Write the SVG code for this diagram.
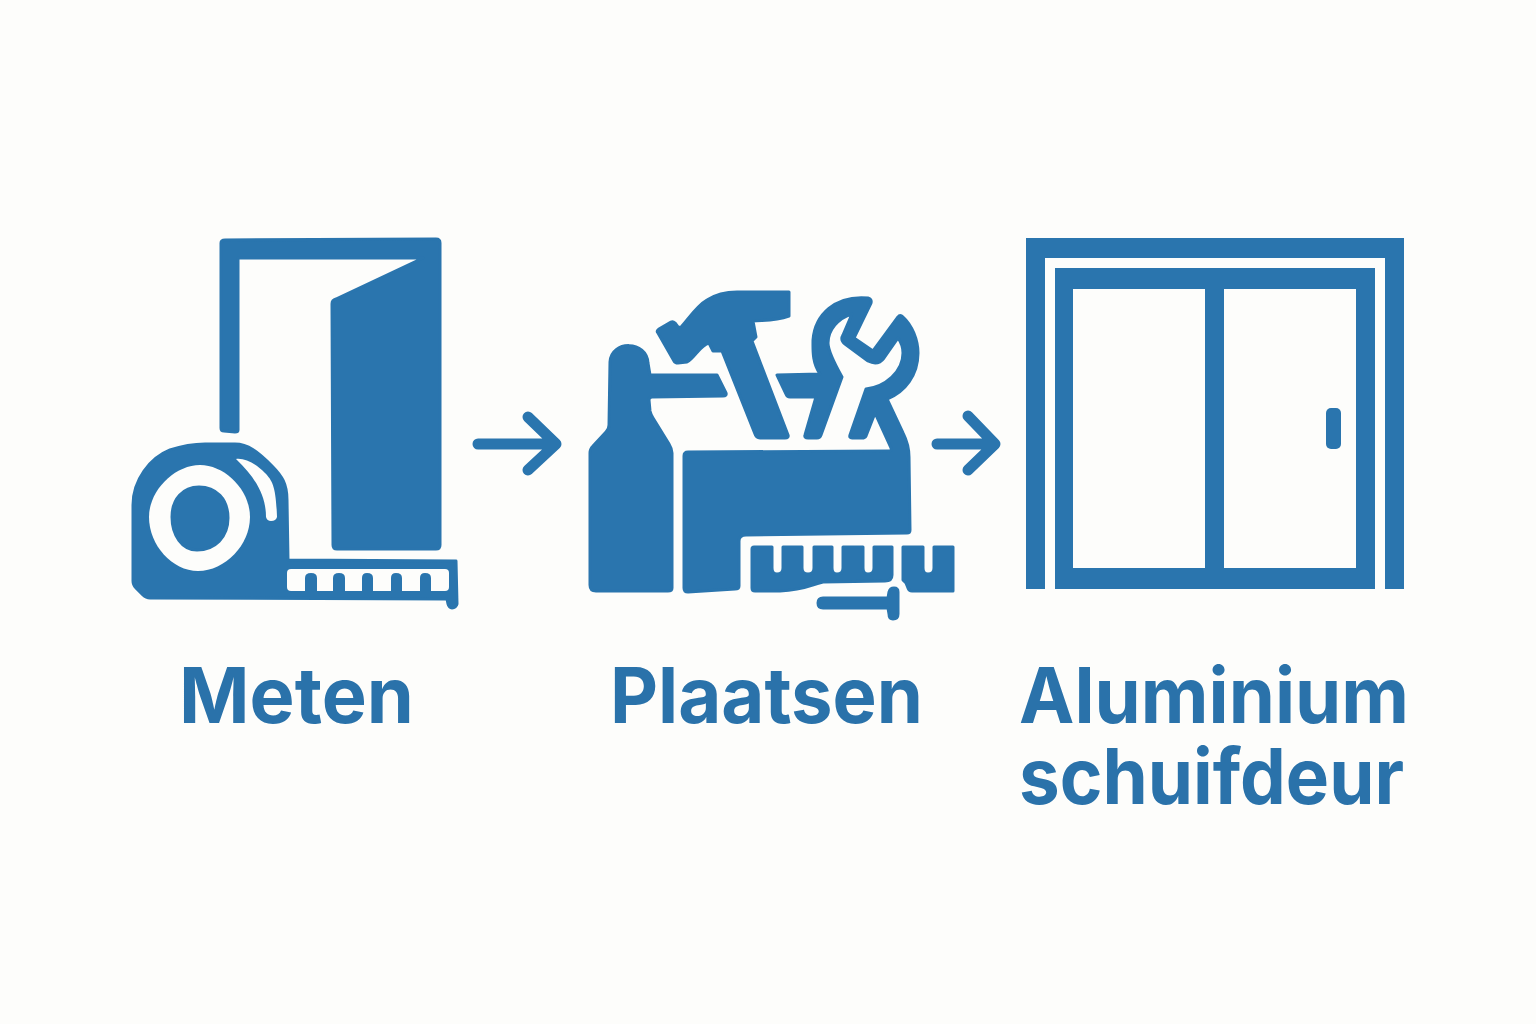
<svg xmlns="http://www.w3.org/2000/svg" width="1536" height="1024" viewBox="0 0 1536 1024">
<style>
.b{fill:#2a75ae;stroke:#2a75ae;stroke-width:3;stroke-linejoin:round}
.w{fill:#fdfdfb}
.c{fill:none;stroke:#2a75ae;stroke-width:11;stroke-linecap:round;stroke-linejoin:round}
.t{font-family:Inter,"Liberation Sans",sans-serif;font-weight:700;font-size:77px;fill:#2a72aa}
</style>
<rect width="1536" height="1024" fill="#fdfdfb"/>
<g id="node-meten">
<path class="b" d="M221,243 Q221,240 225,240 L436,239 Q440,239 440,243 L440,545 Q440,549 436,549 L337,549 Q333,549 333,545 L332,304 Q332,300 336,299 L423,258 L238,258 L238,430 Q238,432 235,432 L224,431 Q221,431 221,428 Z"/>
<path class="b" d="M133,505 C133,480 150,458 170,450 C185,445 195,444 205,444 L235,444 C248,444 258,452 272,466 C282,476 287,484 287,500 L288,560 L456,561 L457,604 Q456,608 452,608 Q449,608 448,604 L447,599 L150,598 Q146,598 143,595 L136,588 Q133,585 133,581 Z"/>
<path class="w" d="M149,517 C149,490 175,465 200,465 C225,465 250,490 250,517 C250,545 225,571 198,571 C172,571 149,545 149,517 Z"/>
<path class="b" d="M172,517 C172,499 183,487 199,487 C216,487 228,499 228,518 C228,537 215,550 197,550 C182,550 172,535 172,517 Z"/>
<path class="w" d="M236,459 C245,458 255,463 265,473 C273,481 276,488 277,517 Q276,521 271,521 Q267,521 266,517 C266,498 258,480 236,459 Z"/>
<rect class="w" x="287" y="569" width="162" height="22" rx="4"/>
<g fill="#2a75ae">
<path d="M305,592 V578 Q305,573 311,573 Q317,573 317,578 V592 Z"/>
<path d="M333,592 V578 Q333,573 339,573 Q345,573 345,578 V592 Z"/>
<path d="M362,592 V578 Q362,573 367,573 Q373,573 373,578 V592 Z"/>
<path d="M391,592 V578 Q391,573 396,573 Q402,573 402,578 V592 Z"/>
<path d="M420,592 V578 Q420,573 425,573 Q431,573 431,578 V592 Z"/>
</g>
<text class="t" x="179" y="723" textLength="235" lengthAdjust="spacingAndGlyphs">Meten</text>
</g>
<g id="node-plaatsen">
<path class="b" d="M590,453 Q590,449 593,446 L606,432 Q609,429 609,425 L610,362 C611,340 647,340 648,363 L650,375 L717,375 L726,393 Q727,396 723,396 L652,397 Q649,397 649,400 L650,411 Q651,415 653,418 L669,444 Q672,449 672,453 L672,588 Q672,591 668,591 L596,591 Q590,591 590,585 Z"/>
<path class="b" d="M688,452 L889,451 Q892,451 891,448 L875,413 L866,436 Q865,438 862,438 L852,438 Q849,438 850,435 L866,389 C885,387 903,372 903,353 Q903,345 898,338 L884,358 Q878,366 868,361 L845,344 Q840,340 843,335 L852,314 C838,318 828,330 828,343 Q828,352 842,377 L821,435 Q820,438 817,438 L808,438 Q804,438 805,435 L816,397 L790,397 Q787,397 786,394 L777,375 L820,374 C812,362 813,350 813,340 C815,315 835,295 868,298 Q872,299 871,303 L854,338 L873,351 L898,317 Q900,314 903,317 C912,325 918,340 918,353 C918,375 905,392 887,399 L903,433 Q909,445 909,457 L910,530 Q910,533 907,533 L746,535 Q739,535 739,541 L739,586 Q739,589 735,589 L688,592 Q684,592 684,588 L684,456 Q684,452 688,452 Z"/>
<path class="b" d="M658,333 Q656,331 659,329 L671,322 Q673,321 675,323 L678,327 Q680,328 682,326 C692,314 698,305 707,300 C718,293 727,292 737,292 L789,292 L789,316 C775,321 765,320 753,321 L756,337 L752,341 L788,435 Q789,438 785,438 L760,438 Q756,438 755,434 L722,351 L713,351 L709,343 C700,345 695,358 687,362 L678,363 Q675,363 674,361 Z"/>
<path class="b" d="M752,549 Q752,547 754,547 L772,547 L772,568 Q772,574 777,574 Q783,574 783,568 L783,547 L802,547 L802,568 Q802,574 808,574 Q814,574 814,568 L814,547 L832,547 L832,568 Q832,574 837,574 Q843,574 843,568 L843,547 L863,547 L863,568 Q863,574 868,574 Q874,574 874,568 L874,547 L892,547 L892,575 Q892,581 885,581 L823,582 C810,585 805,590 780,591 L755,591 Q752,591 752,588 Z"/>
<path class="b" d="M903,547 L923,547 L923,568 Q923,574 928,574 Q934,574 934,568 L934,547 L953,547 L953,591 L912,591 Q909,591 908,588 L906,583 L903,580 Z"/>
<path class="b" d="M823,598 L888,598 L889,592 Q890,588 894,588 Q898,588 898,592 L898,614 Q898,619 893,619 Q889,619 889,614 L888,608 L823,608 Q818,608 818,603 Q818,598 823,598 Z"/>
<text class="t" x="610" y="723" textLength="313" lengthAdjust="spacingAndGlyphs">Plaatsen</text>
</g>
<g id="node-schuifdeur">
<path fill="#2a75ae" d="M1026,238 H1404 V589 H1385 V258 H1045 V589 H1026 Z"/>
<path fill="#2a75ae" fill-rule="evenodd" d="M1055,268 H1375 V589 H1055 Z M1073,289 V568 H1205 V289 Z M1224,289 V568 H1356 V289 Z"/>
<rect x="1326" y="408" width="15" height="41" rx="5" fill="#2a75ae"/>
<text class="t" x="1019" y="723" textLength="390" lengthAdjust="spacingAndGlyphs">Aluminium</text>
<text class="t" x="1019" y="804" textLength="385" lengthAdjust="spacingAndGlyphs">schuifdeur</text>
</g>
<g id="connectors">
<path class="c" d="M478,444 H555 M528,417 L556,444 L528,470"/>
<path class="c" d="M937,444 H994 M968,416 L995,444 L968,470"/>
</g>
</svg>
